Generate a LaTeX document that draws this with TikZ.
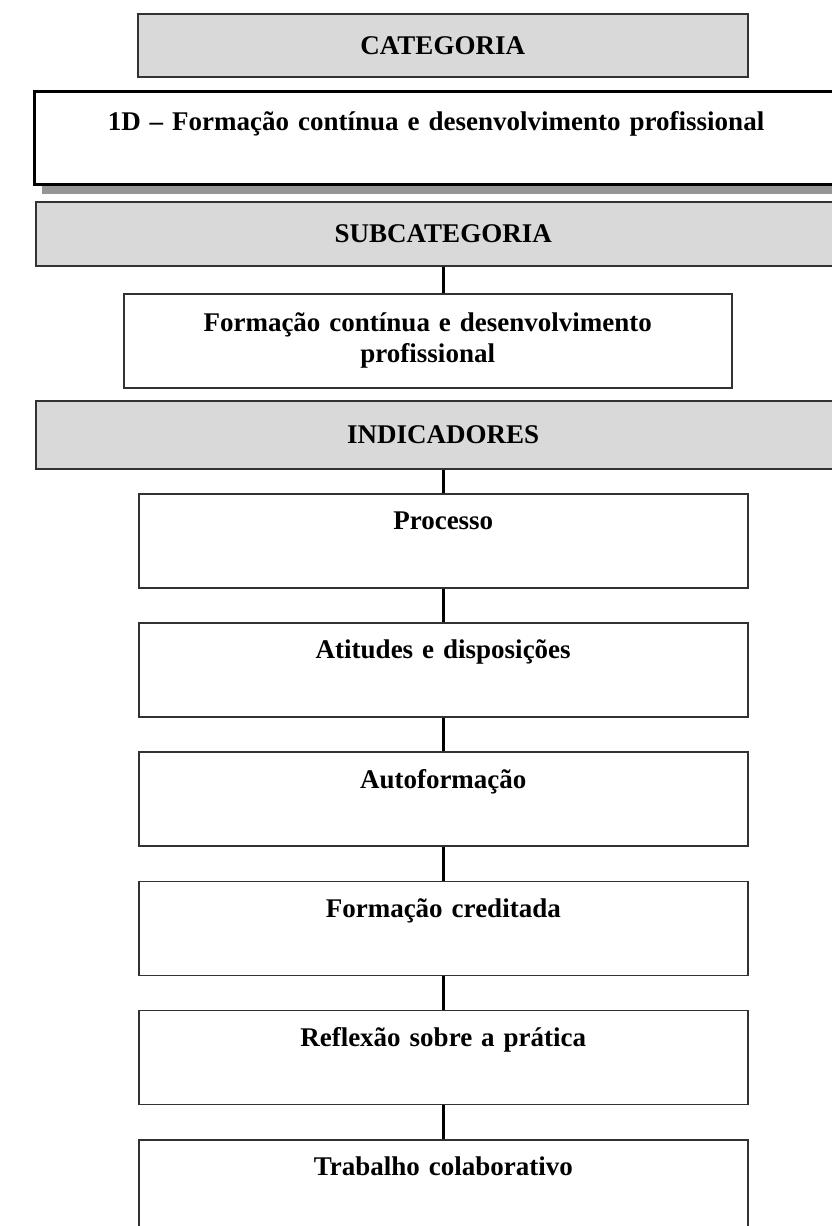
\documentclass[tikz,border=0pt]{standalone}
\usepackage{fontspec}
\setmainfont{Liberation Serif}
\usetikzlibrary{shadows}
\definecolor{headgray}{RGB}{217,217,217}
\definecolor{edgegray}{RGB}{50,50,50}
\definecolor{shadegray}{RGB}{150,150,150}

\begin{document}
\begin{tikzpicture}[x=1pt, y=-1pt,
  every node/.style={font=\fontsize{27}{31}\selectfont\bfseries, inner sep=0pt, anchor=north west, align=center},
  headbox/.style={draw=edgegray, line width=1.5pt, fill=headgray},
  plainbox/.style={draw=edgegray, line width=1.5pt, fill=white},
  itembox/.style={plainbox, text width=609pt, text height=36pt, text depth=58pt},
  link/.style={line width=2.5pt}]
  \useasboundingbox (0,0) rectangle (832,1226);

  % Category
  \node[headbox, text width=610pt, minimum height=63pt] (category) at (137,13) {CATEGORIA};
  \node[draw=black, line width=3pt, fill=white, text width=803pt, text height=39pt, text depth=54pt,
    drop shadow={shadow xshift=7pt, shadow yshift=-9pt, fill=shadegray, opacity=1}]
    (catbox) at (33,90) {1D -- Formação contínua e desenvolvimento profissional};

  % Subcategory
  \node[headbox, text width=815pt, minimum height=64pt] (subcategory) at (35,201) {SUBCATEGORIA};
  \node[plainbox, text width=608pt, minimum height=94pt] (subbox) at (123,293)
    {Formação contínua e desenvolvimento\\profissional};

  % Indicators
  \node[headbox, text width=815pt, minimum height=68pt] (indicators) at (35,400) {INDICADORES};
  \foreach \lbl [count=\i from 0] in {Processo, Atitudes e disposições, Autoformação,
      Formação creditada, Reflexão sobre a prática, Trabalho colaborativo}
    \node[itembox] (item\i) at (138, {493+129.2*\i}) {\lbl};

  % Connectors
  \draw[link] (subcategory.south -| item0.north) -- (subbox.north -| item0.north);
  \draw[link] (indicators.south -| item0.north) -- (item0.north);
  \foreach \i [evaluate=\i as \j using int(\i+1)] in {0,...,4}
    \draw[link] (item\i.south) -- (item\j.north);
\end{tikzpicture}
\end{document}
